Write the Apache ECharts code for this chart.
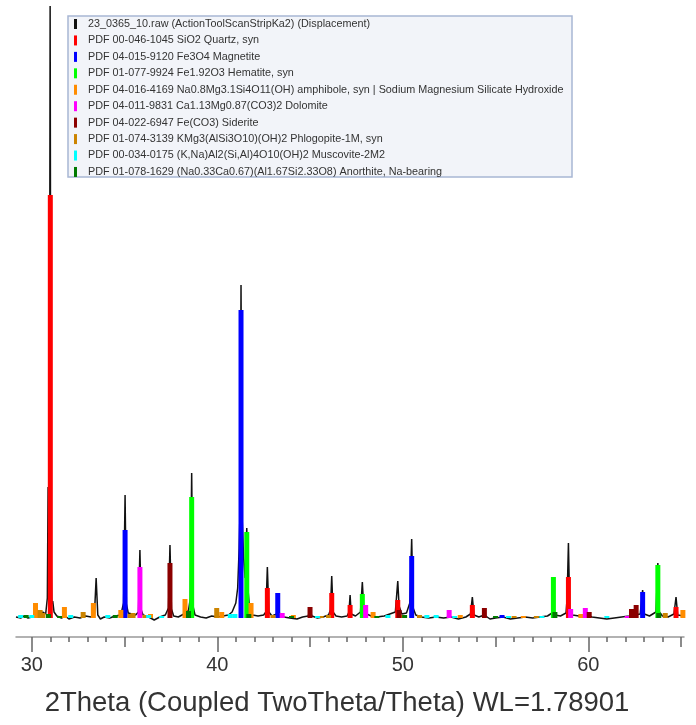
<!DOCTYPE html>
<html><head><meta charset="utf-8">
<script src="https://cdn.jsdelivr.net/npm/echarts@6/dist/echarts.min.js"></script>
<style>html,body{margin:0;padding:0;background:#fff}#c{width:696px;height:725px}</style>
</head><body><div id="c"></div>
<script>
// ---- data (2theta in degrees, intensity in arbitrary units) ----
const X_MAJOR = [30, 40, 50, 60];
const X_MID = [35, 45, 55, 65];
const X_MINOR = [31,32,33,34,36,37,38,39,41,42,43,44,46,47,48,49,51,52,53,54,56,57,58,59,61,62,63,64];
const RAW_NAME = '23_0365_10.raw (ActionToolScanStripKa2) (Displacement)';
const RAW = [
[29.15,1],[29.4,0],[29.6,2],[29.8,0],[30.0,1],[30.2,3],[30.4,2],[30.6,6],[30.75,4],[30.84,20],[30.88,131],[30.91,40],[30.95,120],[30.99,612],[31.04,60],[31.08,14],[31.13,17],[31.2,6],[31.35,2],[31.6,0],[31.8,2],[32.0,-1],[32.3,1],[32.6,0],[32.9,2],[33.2,1],[33.38,4],[33.47,40],[33.56,3],[33.7,-1],[33.9,1],[34.2,0],[34.5,2],[34.8,3],[34.95,15],[35.03,123],[35.1,14],[35.2,5],[35.4,4],[35.6,3],[35.75,6],[35.83,68],[35.9,8],[36.0,3],[36.3,1],[36.6,-2],[36.9,1],[37.2,3],[37.37,10],[37.45,73],[37.53,9],[37.65,2],[37.9,1],[38.1,3],[38.3,5],[38.45,8],[38.55,20],[38.62,145],[38.69,12],[38.8,3],[39.1,1],[39.4,0],[39.7,2],[40.0,1],[40.3,2],[40.6,3],[40.8,6],[41.0,15],[41.1,30],[41.18,70],[41.23,110],[41.28,333],[41.34,100],[41.42,60],[41.5,40],[41.59,90],[41.65,30],[41.75,8],[41.9,3],[42.2,2],[42.5,3],[42.62,6],[42.7,51],[42.78,6],[42.95,2],[43.2,4],[43.26,10],[43.35,5],[43.6,1],[43.9,0],[44.3,-1],[44.6,1],[44.9,2],[45.0,8],[45.1,2],[45.4,0],[45.7,1],[46.0,3],[46.1,8],[46.17,42],[46.24,6],[46.4,2],[46.7,1],[47.0,2],[47.1,6],[47.16,23],[47.22,4],[47.45,2],[47.72,6],[47.82,36],[47.9,8],[48.05,4],[48.3,2],[48.6,1],[49.0,2],[49.3,4],[49.6,6],[49.73,37],[49.8,12],[49.95,4],[50.2,5],[50.38,15],[50.48,79],[50.56,10],[50.7,3],[51.0,1],[51.4,0],[51.8,1],[52.2,0],[52.6,1],[53.0,-1],[53.4,1],[53.65,4],[53.75,21],[53.84,3],[54.1,1],[54.4,3],[54.7,-1],[55.0,0],[55.4,1],[55.8,-1],[56.2,0],[56.6,1],[57.0,0],[57.4,1],[57.8,2],[58.05,5],[58.12,8],[58.2,3],[58.5,2],[58.8,5],[58.86,20],[58.93,75],[59.0,8],[59.15,3],[59.5,2],[59.9,3],[60.2,1],[60.6,0],[61.0,-1],[61.4,0],[61.8,1],[62.2,2],[62.5,3],[62.8,4],[62.93,28],[63.02,4],[63.3,2],[63.65,6],[63.75,55],[63.83,6],[64.0,2],[64.3,1],[64.62,4],[64.73,21],[64.82,3],[65.16,2]
];
const PHASE_NAMES = [
'PDF 00-046-1045 SiO2 Quartz, syn',
'PDF 04-015-9120 Fe3O4 Magnetite',
'PDF 01-077-9924 Fe1.92O3 Hematite, syn',
'PDF 04-016-4169 Na0.8Mg3.1Si4O11(OH) amphibole, syn | Sodium Magnesium Silicate Hydroxide',
'PDF 04-011-9831 Ca1.13Mg0.87(CO3)2 Dolomite',
'PDF 04-022-6947 Fe(CO3) Siderite',
'PDF 01-074-3139 KMg3(AlSi3O10)(OH)2 Phlogopite-1M, syn',
'PDF 00-034-0175 (K,Na)Al2(Si,Al)4O10(OH)2 Muscovite-2M2',
'PDF 01-078-1629 (Na0.33Ca0.67)(Al1.67Si2.33O8) Anorthite, Na-bearing'
];
const QUARTZ = [[31.0,423],[42.70,30],[46.17,25],[47.16,13],[49.73,18],[53.75,13],[58.93,41],[64.73,11]];
const MAGNETITE = [[35.03,88],[41.28,308],[43.26,25],[50.48,62],[55.35,3],[62.93,26]];
const HEMATITE = [[38.62,121],[41.59,86],[47.82,24],[58.12,41],[63.75,53]];
const AMPHIBOLE = [[30.2,15],[31.76,11],[33.32,15],[34.8,8],[36.4,4],[38.26,19],[40.24,6],[41.82,15],[44.1,3],[48.4,6],[49.9,3],[53.1,3],[56.5,2],[59.6,4],[65.1,8]];
const DOLOMITE = [[35.83,51],[43.5,5],[48.0,13],[52.5,8],[59.05,9],[59.84,10],[62.1,2]];
const SIDERITE = [[37.45,55],[45.0,11],[49.8,8],[54.4,10],[60.05,6],[62.33,9],[62.58,13]];
const PHLOGOPITE = [[30.45,8],[30.6,5],[32.77,6],[35.3,4],[35.46,5],[36.1,3],[39.97,10],[43.0,3],[45.6,2],[46.0,3],[50.9,3],[56.0,2],[57.2,2],[64.15,5]];
const MUSCOVITE = [[29.4,3],[30.0,3],[32.1,3],[34.1,3],[36.3,3],[37.0,2],[40.7,4],[40.95,4],[45.4,2],[49.2,3],[51.3,3],[51.8,3],[52.8,2],[55.7,2],[57.5,2],[61.0,2]];
const ANORTHITE = [[29.7,3],[30.9,4],[31.5,2],[34.5,3],[38.45,7],[41.7,4],[44.0,2],[48.6,2],[50.1,3],[55.0,2],[58.2,6],[63.8,5]];
const PHASE_DATA = [QUARTZ, MAGNETITE, HEMATITE, AMPHIBOLE, DOLOMITE, SIDERITE, PHLOGOPITE, MUSCOVITE, ANORTHITE];
const PHASE_COLORS = ['#ff0000','#0000ff','#00ff00','#ff8c00','#ff00ff','#8b0000','#cc8400','#00ffff','#007a00'];
const X_TITLE = '2Theta (Coupled TwoTheta/Theta) WL=1.78901';

// ---- chart ----
const XMIN = 29.15, XMAX = 65.16;
function stickRender(params, api) {
  const x = api.value(0), h = api.value(1);
  const p0 = api.coord([x, 0]);
  const p1 = api.coord([x, h]);
  return {type:'rect', shape:{x:p0[0]-2.5, y:p1[1], width:5, height:p0[1]-p1[1]}, style:{fill: api.visual('color')}};
}
const series = [{
  name: RAW_NAME, type:'line', data: RAW, symbol:'none', sampling: null,
  lineStyle:{color:'#111', width:1.5}, itemStyle:{color:'#111'}, z:2
}];
PHASE_NAMES.forEach((n, i) => {
  series.push({name:n, type:'custom', renderItem: stickRender, data: PHASE_DATA[i],
    itemStyle:{color: PHASE_COLORS[i]}, encode:{x:0, y:1}, z:3+i});
});
function xAx(show, vals, len, labels) {
  return {type:'value', min:XMIN, max:XMAX, position:'bottom',
    axisLine:{show:show, onZero:false, lineStyle:{color:'#999', width:1.5}},
    axisTick:{show:true, customValues: vals, length: len, lineStyle:{color:'#666', width:1.5}},
    axisLabel: labels ? {show:true, customValues: vals, fontSize:20, color:'#333', margin:18, fontFamily:'Liberation Sans'} : {show:false},
    splitLine:{show:false}};
}
const chart = echarts.init(document.getElementById('c'), null, {renderer:'canvas'});
chart.setOption({
  animation:false,
  backgroundColor:'#fff',
  grid:{left:16, right:12, top:5, bottom:88},
  xAxis:[xAx(true, X_MAJOR, 15, true), xAx(false, X_MID, 10, false), xAx(false, X_MINOR, 5, false)],
  yAxis:{type:'value', min:-19, max:613, show:false},
  legend:{orient:'vertical', left:74, top:18, padding:0, icon:'rect', itemWidth:3, itemHeight:10, itemGap:4.44,
    textStyle:{fontSize:10.8, lineHeight:12, color:'#333', fontFamily:'Liberation Sans', padding:[0,0,0,6]},
    data:[RAW_NAME].concat(PHASE_NAMES)},
  graphic:[
    {type:'rect', shape:{x:68, y:16, width:504, height:161}, style:{fill:'#f2f4f9', stroke:'#a8b6d4', lineWidth:1.5}, z:-1, silent:true},
    {type:'text', x:337, y:703, style:{text:X_TITLE, fontSize:27.5, fill:'#333', fontFamily:'Liberation Sans', align:'center', verticalAlign:'middle'}}
  ],
  series: series
});
</script></body></html>
